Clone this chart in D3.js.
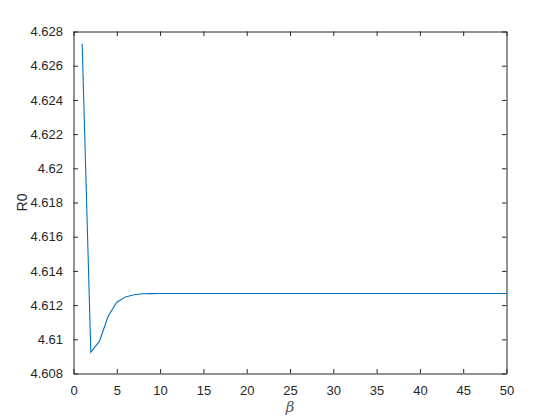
<!DOCTYPE html>
<html>
<head>
<meta charset="utf-8">
<script src="https://d3js.org/d3.v7.min.js"></script>
<style>
  html, body { margin: 0; padding: 0; background: #fff; }
  svg { display: block; }
</style>
</head>
<body>
<svg id="chart" width="560" height="420"></svg>
<script>
// beta values (x) and R0 values
const betas = [1, 2, 3, 4, 5, 6, 7, 8, 9, 10,
  11, 12, 13, 14, 15, 16, 17, 18, 19, 20,
  21, 22, 23, 24, 25, 26, 27, 28, 29, 30,
  31, 32, 33, 34, 35, 36, 37, 38, 39, 40,
  41, 42, 43, 44, 45, 46, 47, 48, 49, 50];
const r0Values = [4.62728, 4.60924, 4.60989, 4.61135, 4.61217, 4.61248, 4.61261, 4.61266, 4.61267, 4.61268,
  4.61268, 4.61268, 4.61268, 4.61268, 4.61268, 4.61268, 4.61268, 4.61268, 4.61268, 4.61268,
  4.61268, 4.61268, 4.61268, 4.61268, 4.61268, 4.61268, 4.61268, 4.61268, 4.61268, 4.61268,
  4.61268, 4.61268, 4.61268, 4.61268, 4.61268, 4.61268, 4.61268, 4.61268, 4.61268, 4.61268,
  4.61268, 4.61268, 4.61268, 4.61268, 4.61268, 4.61268, 4.61268, 4.61268, 4.61268, 4.61268];
const xTicks = [0, 5, 10, 15, 20, 25, 30, 35, 40, 45, 50];
const yTicks = [4.608, 4.61, 4.612, 4.614, 4.616, 4.618, 4.62, 4.622, 4.624, 4.626, 4.628];
const yTickLabels = ["4.608", "4.61", "4.612", "4.614", "4.616", "4.618", "4.62", "4.622", "4.624", "4.626", "4.628"];

const ink = "#262626";
const font = "'Liberation Sans', Arial, Helvetica, sans-serif";
const box = { left: 73.5, right: 506.5, top: 31.5, bottom: 373.5 };
const tickLen = 4.5;

const x = d3.scaleLinear().domain([0, 50]).range([box.left, box.right]);
const y = d3.scaleLinear().domain([4.608, 4.628]).range([box.bottom, box.top]);

const svg = d3.select("#chart");

// data line
const line = d3.line()
  .x((d, i) => x(betas[i]))
  .y((d) => y(d));

svg.append("path")
  .datum(r0Values)
  .attr("fill", "none")
  .attr("stroke", "#0072BD")
  .attr("stroke-width", 1.1)
  .attr("d", line);

// axes (ticks inward, box on)
const bottomAxis = d3.axisBottom(x).tickValues(xTicks).tickSizeInner(-tickLen).tickSizeOuter(0).tickPadding(tickLen + 8);
const topAxis = d3.axisTop(x).tickValues(xTicks).tickSizeInner(-tickLen).tickSizeOuter(0).tickFormat("");
const leftAxis = d3.axisLeft(y).tickValues(yTicks).tickSizeInner(-tickLen).tickSizeOuter(0).tickPadding(tickLen + 6)
  .tickFormat((d, i) => yTickLabels[i]);
const rightAxis = d3.axisRight(y).tickValues(yTicks).tickSizeInner(-tickLen).tickSizeOuter(0).tickFormat("");

function styleAxis(g) {
  g.selectAll(".domain").attr("stroke", ink).attr("stroke-width", 1);
  g.selectAll(".tick line").attr("stroke", ink).attr("stroke-width", 1);
  g.selectAll(".tick text").attr("fill", ink).attr("font-family", font).attr("font-size", 13);
}

svg.append("g").attr("transform", `translate(0,${box.bottom})`).call(bottomAxis).call(styleAxis);
svg.append("g").attr("transform", `translate(0,${box.top})`).call(topAxis).call(styleAxis);
svg.append("g").attr("transform", `translate(${box.left},0)`).call(leftAxis).call(styleAxis);
svg.append("g").attr("transform", `translate(${box.right},0)`).call(rightAxis).call(styleAxis);

// axis labels
svg.append("text")
  .attr("x", (box.left + box.right) / 2)
  .attr("y", 412)
  .attr("text-anchor", "middle")
  .attr("fill", "#555")
  .attr("font-family", "'DejaVu Serif', 'Liberation Serif', serif")
  .attr("font-style", "italic")
  .attr("font-size", 15)
  .text("β");

svg.append("text")
  .attr("transform", `translate(27,${(box.top + box.bottom) / 2}) rotate(-90)`)
  .attr("text-anchor", "middle")
  .attr("fill", ink)
  .attr("font-family", font)
  .attr("font-size", 14)
  .text("R0");
</script>
</body>
</html>
